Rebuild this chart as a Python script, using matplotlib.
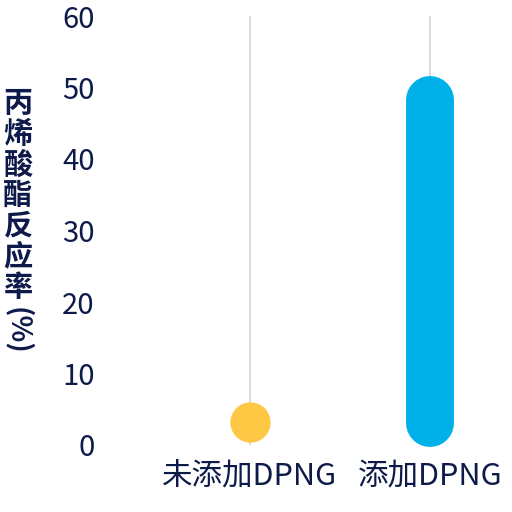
import matplotlib
matplotlib.use("Agg")
import matplotlib.pyplot as plt

plt.rcParams["font.family"] = ["Noto Sans CJK SC", "DejaVu Sans"]

categories = ["未添加DPNG", "添加DPNG"]
low_values = [3.2, 3.1]
high_values = [3.2, 48.3]
y_ticks = [0, 10, 20, 30, 40, 50, 60]
y_label_chars = "丙烯酸酯反应率"
y_label_unit = "(%)"

TEXT = "#0d1a4a"
GRID = "#cfd3db"
DOT = "#ffc844"
BAR = "#00b0e8"

fig = plt.figure(figsize=(5.12, 5.12), dpi=100)
ax = fig.add_axes([124 / 512, 67 / 512, 378 / 512, 429 / 512])

x = list(range(len(categories)))
ax.vlines(x, 0, 60, color=GRID, linewidth=1.2, zorder=1, clip_on=False)

for xi, lo, hi in zip(x, low_values, high_values):
    if hi - lo < 0.5:
        ax.plot([xi], [lo], "o", color=DOT, markersize=29, markeredgewidth=0,
                zorder=3, clip_on=False)
    else:
        ax.plot([xi, xi], [lo, hi], color=BAR, linewidth=34.5,
                solid_capstyle="round", zorder=3, clip_on=False)

ax.set_xlim(-0.7, 1.4)
ax.set_ylim(0, 60)
ax.set_yticks(y_ticks)
ax.set_xticks(x)
ax.set_xticklabels(categories)
ax.tick_params(axis="y", length=0, pad=21, labelsize=21, labelcolor=TEXT)
ax.tick_params(axis="x", length=0, pad=11, labelsize=22, labelcolor=TEXT)
for side in ax.spines.values():
    side.set_visible(False)

fig.text(18 / 512, 1 - 195 / 512, "\n".join(y_label_chars), ha="center",
         va="center", fontsize=21, fontweight="bold", color=TEXT,
         linespacing=1.03)
fig.text(18 / 512, 1 - 331 / 512, y_label_unit, ha="center", va="center",
         rotation=270, fontsize=20, fontweight="bold", color=TEXT)

fig.savefig("out.png", dpi=100)
